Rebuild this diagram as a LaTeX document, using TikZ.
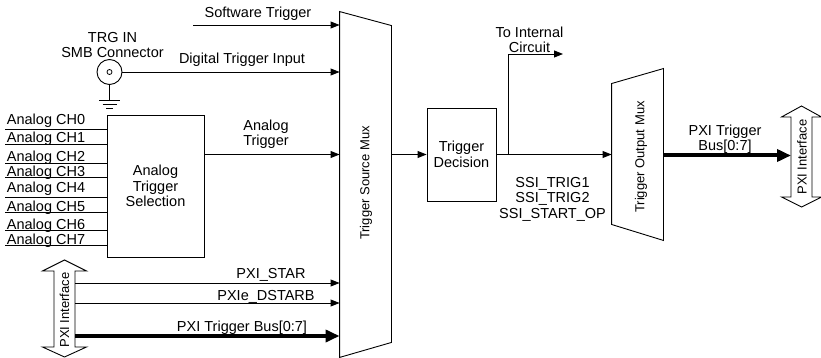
\documentclass[tikz,border=0pt]{standalone}
\usepackage{fontspec}
\setmainfont{Liberation Sans}
\usetikzlibrary{arrows.meta}
\begin{document}
\begin{tikzpicture}[x=1pt,y=-1pt,
  every node/.style={font=\fontsize{14.5}{15.5}\selectfont, inner sep=0pt},
  line width=0.9pt,
  arr/.style={-{Triangle[length=9pt,width=7pt]}},
  bus/.style={line width=4pt,-{Triangle[length=14pt,width=12pt]}},
  blk/.style={draw, align=center, line width=0.9pt},
  lbl/.style={anchor=base},
  chl/.style={anchor=base west},
  mlbl/.style={align=center},
  rlbl/.style={rotate=90, font=\fontsize{13}{14}\selectfont},
]
\useasboundingbox (0,0) rectangle (821,358);

% ---- Trigger Source Mux
\node[minimum width=51pt, minimum height=345pt] (tsm) at (365.5,184.5) {};
\draw (tsm.north west) -- ([yshift=-14pt]tsm.north east) -- ([yshift=15pt]tsm.south east) -- (tsm.south west) -- cycle;
\node[rlbl] (tsml) at (366,183) {Trigger Source Mux};

% ---- Trigger Decision
\node[blk, minimum width=69pt, minimum height=93pt] (td) at (461.5,154.5) {Trigger\\Decision};

% ---- Trigger Output Mux
\node[minimum width=51pt, minimum height=171pt] (tom) at (637.5,154.5) {};
\draw ([yshift=-15pt]tom.north west) -- (tom.north east) -- (tom.south east) -- ([yshift=16pt]tom.south west) -- cycle;
\node[rlbl] (toml) at (641,157) {Trigger Output Mux};

% ---- Analog Trigger Selection
\node[blk, minimum width=97pt, minimum height=142pt] (ats) at (155.5,186) {Analog\\Trigger\\Selection};

% ---- Software trigger
\coordinate (sw) at (193,25);
\draw[arr] (sw) -- (sw -| tsm.west);
\node[lbl] (swl) at (258,18) {Software Trigger};

% ---- SMB connector
\node[draw, circle, minimum size=25pt] (smb) at (109.5,72) {};
\node[draw, circle, minimum size=5pt, line width=0.8pt] (smbc) at (smb.center) {};
\node[mlbl] (smbl) at (112.5,45) {TRG IN\\SMB Connector};
\draw[arr] (smb.east) -- (smb.east -| tsm.west);
\node[lbl] (dtl) at (242,64) {Digital Trigger Input};
\coordinate (gnd) at (109.5,100);
\draw (smb.south) -- (gnd);
\draw ([xshift=-10.5pt]gnd) -- ([xshift=10.5pt]gnd);
\draw ([shift={(-7,4)}]gnd) -- ([shift={(7,4)}]gnd);
\draw ([shift={(-3.5,8)}]gnd) -- ([shift={(3.5,8)}]gnd);

% ---- Analog channels
\foreach \i/\ly/\by in {0/129/125,1/144/143,2/163/161.5,3/177/176,4/197/192.5,5/212/211,6/230/229,7/245/244}{
  \coordinate (ch\i) at (5,\ly);
  \draw (ch\i) -- (ch\i -| ats.west);
  \node[chl] (chl\i) at (6.5,\by) {Analog CH\i};
}

% ---- Analog trigger
\draw[arr] (ats.east |- td.west) -- (tsm.west |- td.west);
\node[mlbl] (atl) at (266,134.5) {Analog\\Trigger};

% ---- mux -> decision
\draw[arr] (td.west -| tsm.east) -- (td.west);

% ---- decision -> output mux
\draw[arr] (td.east) -- (tom.west);
\coordinate (br) at (508,154.5);
\coordinate (ic) at (563,54);
\draw[arr] (br) |- (ic);
\node[mlbl] (icl) at (529.5,40) {To Internal\\Circuit};
\node[mlbl] (ssil) at (552.5,199) {SSI\_TRIG1\\SSI\_TRIG2\\SSI\_START\_OP};

% ---- right PXI interface
\draw (801.5,106) -- (821.5,117) -- (812,117) -- (812,197) -- (821.5,197) -- (801.5,207)
      -- (781.5,197) -- (791,197) -- (791,117) -- (781.5,117) -- cycle;
\node[rlbl] (pxirl) at (802,157) {PXI Interface};
\coordinate (pxir) at (791,155.5);
\draw[bus] (tom.east |- pxir) -- (pxir);
\node[mlbl] (pbl) at (725,139.5) {PXI Trigger\\Bus[0:7]};

% ---- left PXI interface
\draw (64.5,260) -- (86.5,271) -- (75,271) -- (75,347) -- (86.5,347) -- (64.5,357)
      -- (42.5,347) -- (54,347) -- (54,271) -- (42.5,271) -- cycle;
\node[rlbl] (pxill) at (64.5,310) {PXI Interface};
\coordinate (ps) at (75,283);
\coordinate (pd) at (75,303);
\coordinate (pb) at (75,336);
\draw[arr] (ps) -- (ps -| tsm.west);
\draw[arr] (pd) -- (pd -| tsm.west);
\draw[bus] (pb) -- (pb -| tsm.west);
\node[lbl] (psl) at (271,278) {PXI\_STAR};
\node[lbl] (pdl) at (266,300) {PXIe\_DSTARB};
\node[lbl] (pbl2) at (242,331) {PXI Trigger Bus[0:7]};
\end{tikzpicture}
\end{document}
